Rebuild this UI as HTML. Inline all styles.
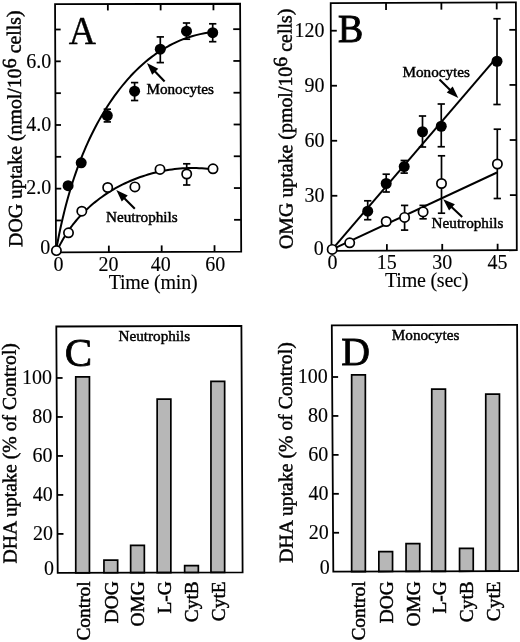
<!DOCTYPE html>
<html><head><meta charset="utf-8"><style>
html,body{margin:0;padding:0;background:#fff;}
svg{display:block;filter:grayscale(1);}
text{font-family:"Liberation Serif", serif;fill:#000;stroke:#000;stroke-width:0.45px;}
text.t{stroke-width:0.12px;}
</style></head><body>
<svg width="520" height="642" viewBox="0 0 520 642">
<rect width="520" height="642" fill="#fff"/>
<path d="M56.11,250.11 L56.83,246.15 L57.58,242.19 L58.36,238.20 L59.16,234.21 L60.00,230.21 L60.87,226.20 L61.77,222.19 L62.70,218.17 L63.66,214.15 L64.66,210.13 L65.70,206.10 L66.77,202.08 L67.87,198.06 L69.02,194.04 L70.20,190.03 L71.42,186.03 L72.68,182.03 L73.99,178.05 L75.33,174.07 L76.72,170.11 L78.15,166.16 L79.63,162.23 L81.15,158.31 L82.71,154.41 L84.32,150.53 L85.98,146.67 L87.69,142.84 L89.45,139.03 L91.26,135.24 L93.12,131.48 L95.03,127.75 L96.99,124.05 L99.01,120.38 L101.08,116.75 L103.20,113.14 L105.39,109.58 L107.62,106.05 L109.92,102.55 L112.27,99.10 L114.69,95.69 L117.16,92.33 L119.69,89.01 L122.29,85.75 L124.94,82.54 L127.66,79.39 L130.44,76.31 L133.29,73.30 L136.20,70.36 L139.17,67.49 L142.21,64.71 L145.31,62.00 L148.49,59.39 L151.72,56.87 L155.03,54.44 L158.41,52.11 L161.85,49.89 L165.36,47.77 L168.95,45.76 L172.60,43.87 L176.33,42.09 L180.13,40.44 L184.00,38.91 L187.94,37.51 L191.96,36.25 L196.05,35.12 L200.22,34.14 L204.46,33.30 L208.79,32.61 L213.18,32.07" fill="none" stroke="#000" stroke-width="2.0" stroke-linejoin="round"/>
<path d="M57.06,250.86 L58.23,248.33 L59.46,245.83 L60.74,243.37 L62.06,240.95 L63.44,238.56 L64.86,236.21 L66.32,233.89 L67.83,231.61 L69.39,229.36 L70.99,227.15 L72.63,224.98 L74.32,222.85 L76.04,220.75 L77.81,218.69 L79.62,216.67 L81.46,214.68 L83.34,212.73 L85.26,210.83 L87.22,208.96 L89.21,207.12 L91.23,205.33 L93.29,203.58 L95.38,201.86 L97.51,200.19 L99.66,198.55 L101.85,196.96 L104.06,195.40 L106.31,193.89 L108.58,192.42 L110.88,190.98 L113.20,189.59 L115.55,188.24 L117.93,186.93 L120.33,185.66 L122.75,184.44 L125.19,183.26 L127.66,182.12 L130.15,181.02 L132.65,179.96 L135.17,178.95 L137.72,177.98 L140.28,177.06 L142.85,176.18 L145.44,175.34 L148.05,174.54 L150.67,173.79 L153.30,173.09 L155.94,172.43 L158.60,171.82 L161.26,171.25 L163.94,170.72 L166.62,170.24 L169.32,169.81 L172.02,169.42 L174.72,169.08 L177.43,168.79 L180.15,168.54 L182.87,168.34 L185.59,168.19 L188.32,168.09 L191.04,168.03 L193.77,168.02 L196.50,168.06 L199.22,168.15 L201.95,168.28 L204.67,168.46 L207.38,168.70 L210.10,168.98 L212.80,169.31" fill="none" stroke="#000" stroke-width="2.0" stroke-linejoin="round"/>
<polygon points="55.05,4.05 240.10,3.75 241.20,251.60 56.00,252.30" fill="none" stroke="#000" stroke-width="1.8" stroke-linejoin="miter"/>
<line x1="55.88" y1="220.47" x2="61.38" y2="220.47" stroke="#000" stroke-width="1.8" stroke-linecap="butt"/>
<line x1="241.06" y1="219.82" x2="234.06" y2="219.82" stroke="#000" stroke-width="1.8" stroke-linecap="butt"/>
<line x1="55.76" y1="188.65" x2="61.26" y2="188.65" stroke="#000" stroke-width="1.8" stroke-linecap="butt"/>
<line x1="240.92" y1="188.05" x2="233.92" y2="188.05" stroke="#000" stroke-width="1.8" stroke-linecap="butt"/>
<line x1="55.63" y1="156.82" x2="61.13" y2="156.82" stroke="#000" stroke-width="1.8" stroke-linecap="butt"/>
<line x1="240.78" y1="156.27" x2="233.78" y2="156.27" stroke="#000" stroke-width="1.8" stroke-linecap="butt"/>
<line x1="55.51" y1="124.99" x2="61.01" y2="124.99" stroke="#000" stroke-width="1.8" stroke-linecap="butt"/>
<line x1="240.64" y1="124.50" x2="233.64" y2="124.50" stroke="#000" stroke-width="1.8" stroke-linecap="butt"/>
<line x1="55.39" y1="93.17" x2="60.89" y2="93.17" stroke="#000" stroke-width="1.8" stroke-linecap="butt"/>
<line x1="240.49" y1="92.72" x2="233.49" y2="92.72" stroke="#000" stroke-width="1.8" stroke-linecap="butt"/>
<line x1="55.27" y1="61.34" x2="60.77" y2="61.34" stroke="#000" stroke-width="1.8" stroke-linecap="butt"/>
<line x1="240.35" y1="60.95" x2="233.35" y2="60.95" stroke="#000" stroke-width="1.8" stroke-linecap="butt"/>
<line x1="55.15" y1="29.51" x2="60.65" y2="29.51" stroke="#000" stroke-width="1.8" stroke-linecap="butt"/>
<line x1="240.21" y1="29.17" x2="233.21" y2="29.17" stroke="#000" stroke-width="1.8" stroke-linecap="butt"/>
<line x1="107.85" y1="3.96" x2="107.85" y2="10.46" stroke="#000" stroke-width="1.8" stroke-linecap="butt"/>
<line x1="108.84" y1="252.10" x2="108.84" y2="245.60" stroke="#000" stroke-width="1.8" stroke-linecap="butt"/>
<line x1="160.64" y1="3.88" x2="160.64" y2="10.38" stroke="#000" stroke-width="1.8" stroke-linecap="butt"/>
<line x1="161.68" y1="251.90" x2="161.68" y2="245.40" stroke="#000" stroke-width="1.8" stroke-linecap="butt"/>
<line x1="213.44" y1="3.79" x2="213.44" y2="10.29" stroke="#000" stroke-width="1.8" stroke-linecap="butt"/>
<line x1="214.52" y1="251.70" x2="214.52" y2="245.20" stroke="#000" stroke-width="1.8" stroke-linecap="butt"/>
<line x1="107.30" y1="109.20" x2="107.30" y2="121.90" stroke="#000" stroke-width="1.7" stroke-linecap="butt"/>
<line x1="103.65" y1="109.20" x2="110.95" y2="109.20" stroke="#000" stroke-width="1.7" stroke-linecap="butt"/>
<line x1="103.65" y1="121.90" x2="110.95" y2="121.90" stroke="#000" stroke-width="1.7" stroke-linecap="butt"/>
<line x1="134.60" y1="82.60" x2="134.60" y2="100.50" stroke="#000" stroke-width="1.7" stroke-linecap="butt"/>
<line x1="130.95" y1="82.60" x2="138.25" y2="82.60" stroke="#000" stroke-width="1.7" stroke-linecap="butt"/>
<line x1="130.95" y1="100.50" x2="138.25" y2="100.50" stroke="#000" stroke-width="1.7" stroke-linecap="butt"/>
<line x1="160.30" y1="36.90" x2="160.30" y2="62.60" stroke="#000" stroke-width="1.7" stroke-linecap="butt"/>
<line x1="156.65" y1="36.90" x2="163.95" y2="36.90" stroke="#000" stroke-width="1.7" stroke-linecap="butt"/>
<line x1="156.65" y1="62.60" x2="163.95" y2="62.60" stroke="#000" stroke-width="1.7" stroke-linecap="butt"/>
<line x1="186.50" y1="23.00" x2="186.50" y2="39.20" stroke="#000" stroke-width="1.7" stroke-linecap="butt"/>
<line x1="182.85" y1="23.00" x2="190.15" y2="23.00" stroke="#000" stroke-width="1.7" stroke-linecap="butt"/>
<line x1="182.85" y1="39.20" x2="190.15" y2="39.20" stroke="#000" stroke-width="1.7" stroke-linecap="butt"/>
<line x1="212.70" y1="23.80" x2="212.70" y2="41.70" stroke="#000" stroke-width="1.7" stroke-linecap="butt"/>
<line x1="209.05" y1="23.80" x2="216.35" y2="23.80" stroke="#000" stroke-width="1.7" stroke-linecap="butt"/>
<line x1="209.05" y1="41.70" x2="216.35" y2="41.70" stroke="#000" stroke-width="1.7" stroke-linecap="butt"/>
<line x1="186.70" y1="163.80" x2="186.70" y2="185.00" stroke="#000" stroke-width="1.7" stroke-linecap="butt"/>
<line x1="183.05" y1="163.80" x2="190.35" y2="163.80" stroke="#000" stroke-width="1.7" stroke-linecap="butt"/>
<line x1="183.05" y1="185.00" x2="190.35" y2="185.00" stroke="#000" stroke-width="1.7" stroke-linecap="butt"/>
<circle cx="68.10" cy="185.70" r="5.5" fill="#000"/>
<circle cx="81.20" cy="162.80" r="5.5" fill="#000"/>
<circle cx="107.30" cy="115.60" r="5.5" fill="#000"/>
<circle cx="134.60" cy="91.20" r="5.5" fill="#000"/>
<circle cx="160.30" cy="49.20" r="5.5" fill="#000"/>
<circle cx="186.50" cy="31.20" r="5.5" fill="#000"/>
<circle cx="212.70" cy="32.70" r="5.5" fill="#000"/>
<circle cx="56.40" cy="250.60" r="4.65" fill="#fff" stroke="#000" stroke-width="1.7"/>
<circle cx="68.50" cy="232.80" r="4.65" fill="#fff" stroke="#000" stroke-width="1.7"/>
<circle cx="81.80" cy="211.20" r="4.65" fill="#fff" stroke="#000" stroke-width="1.7"/>
<circle cx="107.70" cy="187.50" r="4.65" fill="#fff" stroke="#000" stroke-width="1.7"/>
<circle cx="134.90" cy="186.90" r="4.65" fill="#fff" stroke="#000" stroke-width="1.7"/>
<circle cx="160.00" cy="169.40" r="4.65" fill="#fff" stroke="#000" stroke-width="1.7"/>
<circle cx="186.70" cy="174.00" r="4.65" fill="#fff" stroke="#000" stroke-width="1.7"/>
<circle cx="213.00" cy="168.80" r="4.65" fill="#fff" stroke="#000" stroke-width="1.7"/>
<line x1="164.60" y1="81.50" x2="153.83" y2="70.31" stroke="#000" stroke-width="2.1" stroke-linecap="butt"/>
<polygon points="146.90,63.10 158.28,68.80 152.16,74.69" fill="#000"/>
<text x="146.40" y="94.30" font-size="15.2" text-anchor="start" >Monocytes</text>
<line x1="134.80" y1="208.70" x2="123.35" y2="197.19" stroke="#000" stroke-width="2.1" stroke-linecap="butt"/>
<polygon points="116.30,190.10 127.78,195.61 121.75,201.61" fill="#000"/>
<text x="106.00" y="221.50" font-size="15.2" text-anchor="start" >Neutrophils</text>
<text class="t" x="50.20" y="254.30" font-size="20" text-anchor="end" >0</text>
<text class="t" x="51.20" y="193.60" font-size="20" text-anchor="end" >2.0</text>
<text class="t" x="51.20" y="130.60" font-size="20" text-anchor="end" >4.0</text>
<text class="t" x="51.20" y="67.60" font-size="20" text-anchor="end" >6.0</text>
<text class="t" x="58.60" y="270.60" font-size="20" text-anchor="middle" >0</text>
<text class="t" x="108.60" y="270.60" font-size="20" text-anchor="middle" >20</text>
<text class="t" x="160.80" y="270.60" font-size="20" text-anchor="middle" >40</text>
<text class="t" x="215.30" y="270.60" font-size="20" text-anchor="middle" >60</text>
<text class="t" x="153.00" y="289.10" font-size="20" text-anchor="middle" letter-spacing="-0.22">Time (min)</text>
<text transform="translate(21.30,128.65) rotate(-90.45)" font-size="19.87" text-anchor="middle" >DOG uptake (nmol/10<tspan dy="-4.8">6</tspan><tspan dy="4.8"> cells)</tspan></text>
<text transform="translate(68.80,43.90) scale(0.92,1)" x="0" y="0" font-size="41" style="stroke-width:0.4px">A</text>
<line x1="332.20" y1="249.40" x2="495.00" y2="59.30" stroke="#000" stroke-width="2.0" stroke-linecap="butt"/>
<line x1="332.20" y1="249.40" x2="497.00" y2="172.50" stroke="#000" stroke-width="2.0" stroke-linecap="butt"/>
<polygon points="330.70,3.20 515.90,2.30 516.80,250.20 331.50,250.80" fill="none" stroke="#000" stroke-width="1.8" stroke-linejoin="miter"/>
<line x1="331.32" y1="195.78" x2="337.32" y2="195.78" stroke="#000" stroke-width="1.8" stroke-linecap="butt"/>
<line x1="516.60" y1="195.11" x2="509.90" y2="195.11" stroke="#000" stroke-width="1.8" stroke-linecap="butt"/>
<line x1="331.14" y1="140.76" x2="337.14" y2="140.76" stroke="#000" stroke-width="1.8" stroke-linecap="butt"/>
<line x1="516.40" y1="140.02" x2="509.70" y2="140.02" stroke="#000" stroke-width="1.8" stroke-linecap="butt"/>
<line x1="330.97" y1="85.73" x2="336.97" y2="85.73" stroke="#000" stroke-width="1.8" stroke-linecap="butt"/>
<line x1="516.20" y1="84.93" x2="509.50" y2="84.93" stroke="#000" stroke-width="1.8" stroke-linecap="butt"/>
<line x1="330.79" y1="30.71" x2="336.79" y2="30.71" stroke="#000" stroke-width="1.8" stroke-linecap="butt"/>
<line x1="516.00" y1="29.84" x2="509.30" y2="29.84" stroke="#000" stroke-width="1.8" stroke-linecap="butt"/>
<line x1="386.04" y1="2.93" x2="386.04" y2="9.93" stroke="#000" stroke-width="1.8" stroke-linecap="butt"/>
<line x1="386.87" y1="250.62" x2="386.87" y2="244.12" stroke="#000" stroke-width="1.8" stroke-linecap="butt"/>
<line x1="441.38" y1="2.66" x2="441.38" y2="9.66" stroke="#000" stroke-width="1.8" stroke-linecap="butt"/>
<line x1="442.24" y1="250.44" x2="442.24" y2="243.94" stroke="#000" stroke-width="1.8" stroke-linecap="butt"/>
<line x1="496.72" y1="2.39" x2="496.72" y2="9.39" stroke="#000" stroke-width="1.8" stroke-linecap="butt"/>
<line x1="497.61" y1="250.26" x2="497.61" y2="243.76" stroke="#000" stroke-width="1.8" stroke-linecap="butt"/>
<line x1="367.70" y1="200.80" x2="367.70" y2="219.70" stroke="#000" stroke-width="1.7" stroke-linecap="butt"/>
<line x1="364.05" y1="200.80" x2="371.35" y2="200.80" stroke="#000" stroke-width="1.7" stroke-linecap="butt"/>
<line x1="364.05" y1="219.70" x2="371.35" y2="219.70" stroke="#000" stroke-width="1.7" stroke-linecap="butt"/>
<line x1="386.20" y1="174.20" x2="386.20" y2="192.00" stroke="#000" stroke-width="1.7" stroke-linecap="butt"/>
<line x1="382.55" y1="174.20" x2="389.85" y2="174.20" stroke="#000" stroke-width="1.7" stroke-linecap="butt"/>
<line x1="382.55" y1="192.00" x2="389.85" y2="192.00" stroke="#000" stroke-width="1.7" stroke-linecap="butt"/>
<line x1="404.20" y1="160.50" x2="404.20" y2="173.10" stroke="#000" stroke-width="1.7" stroke-linecap="butt"/>
<line x1="400.55" y1="160.50" x2="407.85" y2="160.50" stroke="#000" stroke-width="1.7" stroke-linecap="butt"/>
<line x1="400.55" y1="173.10" x2="407.85" y2="173.10" stroke="#000" stroke-width="1.7" stroke-linecap="butt"/>
<line x1="422.50" y1="116.00" x2="422.50" y2="147.00" stroke="#000" stroke-width="1.7" stroke-linecap="butt"/>
<line x1="418.85" y1="116.00" x2="426.15" y2="116.00" stroke="#000" stroke-width="1.7" stroke-linecap="butt"/>
<line x1="418.85" y1="147.00" x2="426.15" y2="147.00" stroke="#000" stroke-width="1.7" stroke-linecap="butt"/>
<line x1="441.25" y1="104.00" x2="441.25" y2="146.75" stroke="#000" stroke-width="1.7" stroke-linecap="butt"/>
<line x1="437.60" y1="104.00" x2="444.90" y2="104.00" stroke="#000" stroke-width="1.7" stroke-linecap="butt"/>
<line x1="437.60" y1="146.75" x2="444.90" y2="146.75" stroke="#000" stroke-width="1.7" stroke-linecap="butt"/>
<line x1="497.00" y1="18.75" x2="497.00" y2="104.50" stroke="#000" stroke-width="1.7" stroke-linecap="butt"/>
<line x1="493.35" y1="18.75" x2="500.65" y2="18.75" stroke="#000" stroke-width="1.7" stroke-linecap="butt"/>
<line x1="493.35" y1="104.50" x2="500.65" y2="104.50" stroke="#000" stroke-width="1.7" stroke-linecap="butt"/>
<line x1="404.60" y1="205.40" x2="404.60" y2="230.10" stroke="#000" stroke-width="1.7" stroke-linecap="butt"/>
<line x1="400.95" y1="205.40" x2="408.25" y2="205.40" stroke="#000" stroke-width="1.7" stroke-linecap="butt"/>
<line x1="400.95" y1="230.10" x2="408.25" y2="230.10" stroke="#000" stroke-width="1.7" stroke-linecap="butt"/>
<line x1="423.10" y1="205.40" x2="423.10" y2="218.80" stroke="#000" stroke-width="1.7" stroke-linecap="butt"/>
<line x1="419.45" y1="205.40" x2="426.75" y2="205.40" stroke="#000" stroke-width="1.7" stroke-linecap="butt"/>
<line x1="419.45" y1="218.80" x2="426.75" y2="218.80" stroke="#000" stroke-width="1.7" stroke-linecap="butt"/>
<line x1="441.50" y1="155.80" x2="441.50" y2="213.20" stroke="#000" stroke-width="1.7" stroke-linecap="butt"/>
<line x1="437.85" y1="155.80" x2="445.15" y2="155.80" stroke="#000" stroke-width="1.7" stroke-linecap="butt"/>
<line x1="437.85" y1="213.20" x2="445.15" y2="213.20" stroke="#000" stroke-width="1.7" stroke-linecap="butt"/>
<line x1="497.30" y1="129.20" x2="497.30" y2="198.50" stroke="#000" stroke-width="1.7" stroke-linecap="butt"/>
<line x1="493.65" y1="129.20" x2="500.95" y2="129.20" stroke="#000" stroke-width="1.7" stroke-linecap="butt"/>
<line x1="493.65" y1="198.50" x2="500.95" y2="198.50" stroke="#000" stroke-width="1.7" stroke-linecap="butt"/>
<circle cx="367.70" cy="211.20" r="5.5" fill="#000"/>
<circle cx="386.20" cy="183.50" r="5.5" fill="#000"/>
<circle cx="404.20" cy="166.60" r="5.5" fill="#000"/>
<circle cx="422.50" cy="131.75" r="5.5" fill="#000"/>
<circle cx="441.25" cy="126.25" r="5.5" fill="#000"/>
<circle cx="497.00" cy="61.25" r="5.5" fill="#000"/>
<circle cx="332.20" cy="249.40" r="4.65" fill="#fff" stroke="#000" stroke-width="1.7"/>
<circle cx="349.70" cy="242.80" r="4.65" fill="#fff" stroke="#000" stroke-width="1.7"/>
<circle cx="386.20" cy="221.50" r="4.65" fill="#fff" stroke="#000" stroke-width="1.7"/>
<circle cx="404.60" cy="217.40" r="4.65" fill="#fff" stroke="#000" stroke-width="1.7"/>
<circle cx="423.10" cy="211.90" r="4.65" fill="#fff" stroke="#000" stroke-width="1.7"/>
<circle cx="441.50" cy="183.50" r="4.65" fill="#fff" stroke="#000" stroke-width="1.7"/>
<circle cx="497.40" cy="164.00" r="4.65" fill="#fff" stroke="#000" stroke-width="1.7"/>
<line x1="439.50" y1="79.50" x2="451.15" y2="90.91" stroke="#000" stroke-width="2.1" stroke-linecap="butt"/>
<polygon points="458.30,97.90 446.75,92.54 452.70,86.47" fill="#000"/>
<text x="402.50" y="77.00" font-size="15.2" text-anchor="start" >Monocytes</text>
<line x1="462.20" y1="217.00" x2="450.50" y2="206.04" stroke="#000" stroke-width="2.1" stroke-linecap="butt"/>
<polygon points="443.20,199.20 454.86,204.30 449.05,210.51" fill="#000"/>
<text x="431.60" y="227.90" font-size="15.2" text-anchor="start" >Neutrophils</text>
<text class="t" x="323.80" y="255.00" font-size="20" text-anchor="end" >0</text>
<text class="t" x="324.60" y="201.98" font-size="20" text-anchor="end" >30</text>
<text class="t" x="324.60" y="146.96" font-size="20" text-anchor="end" >60</text>
<text class="t" x="324.60" y="91.93" font-size="20" text-anchor="end" >90</text>
<text class="t" x="324.60" y="36.91" font-size="20" text-anchor="end" >120</text>
<text class="t" x="332.50" y="268.50" font-size="20" text-anchor="middle" >0</text>
<text class="t" x="386.87" y="268.50" font-size="20" text-anchor="middle" >15</text>
<text class="t" x="442.24" y="268.50" font-size="20" text-anchor="middle" >30</text>
<text class="t" x="497.61" y="268.50" font-size="20" text-anchor="middle" >45</text>
<text class="t" x="426.60" y="287.30" font-size="20" text-anchor="middle" letter-spacing="-0.22">Time (sec)</text>
<text transform="translate(292.10,128.85) rotate(-90.3)" font-size="19.9" text-anchor="middle" >OMG uptake (pmol/10<tspan dy="-4.8">6</tspan><tspan dy="4.8"> cells)</tspan></text>
<text transform="translate(337.90,41.50) scale(0.95,1)" x="0" y="0" font-size="39.8" style="stroke-width:1.0px">B</text>
<polygon points="75.75,572.84 75.75,376.92 89.45,376.87 89.45,572.80" fill="#b7b7b7" stroke="#000" stroke-width="1.7" stroke-linejoin="miter"/>
<polygon points="103.95,572.75 103.95,560.08 117.65,560.03 117.65,572.71" fill="#b7b7b7" stroke="#000" stroke-width="1.7" stroke-linejoin="miter"/>
<polygon points="130.65,572.66 130.65,545.37 144.35,545.32 144.35,572.62" fill="#b7b7b7" stroke="#000" stroke-width="1.7" stroke-linejoin="miter"/>
<polygon points="157.15,572.58 157.15,399.05 170.85,399.00 170.85,572.53" fill="#b7b7b7" stroke="#000" stroke-width="1.7" stroke-linejoin="miter"/>
<polygon points="184.65,572.49 184.65,565.66 198.35,565.62 198.35,572.44" fill="#b7b7b7" stroke="#000" stroke-width="1.7" stroke-linejoin="miter"/>
<polygon points="210.95,572.40 210.95,381.30 224.65,381.25 224.65,572.36" fill="#b7b7b7" stroke="#000" stroke-width="1.7" stroke-linejoin="miter"/>
<polygon points="56.30,326.50 241.40,325.80 242.60,572.30 57.70,572.90" fill="none" stroke="#000" stroke-width="1.8" stroke-linejoin="miter"/>
<line x1="57.48" y1="533.91" x2="63.48" y2="533.91" stroke="#000" stroke-width="1.8" stroke-linecap="butt"/>
<line x1="57.26" y1="494.93" x2="63.26" y2="494.93" stroke="#000" stroke-width="1.8" stroke-linecap="butt"/>
<line x1="57.04" y1="455.94" x2="63.04" y2="455.94" stroke="#000" stroke-width="1.8" stroke-linecap="butt"/>
<line x1="56.81" y1="416.95" x2="62.81" y2="416.95" stroke="#000" stroke-width="1.8" stroke-linecap="butt"/>
<line x1="56.59" y1="377.96" x2="62.59" y2="377.96" stroke="#000" stroke-width="1.8" stroke-linecap="butt"/>
<text class="t" x="54.00" y="574.70" font-size="20" text-anchor="end" >0</text>
<text class="t" x="52.98" y="539.91" font-size="20" text-anchor="end" >20</text>
<text class="t" x="52.76" y="500.93" font-size="20" text-anchor="end" >40</text>
<text class="t" x="52.54" y="461.94" font-size="20" text-anchor="end" >60</text>
<text class="t" x="52.31" y="422.95" font-size="20" text-anchor="end" >80</text>
<text class="t" x="52.09" y="383.96" font-size="20" text-anchor="end" >100</text>
<text x="118.50" y="341.30" font-size="15.2" text-anchor="start" >Neutrophils</text>
<text transform="translate(64.80,365.50) scale(1.0,1)" x="0" y="0" font-size="41" style="stroke-width:0.8px">C</text>
<text transform="translate(89.50,581.30) rotate(-90)" font-size="19.4" text-anchor="end" >Control</text>
<text transform="translate(117.70,581.30) rotate(-90)" font-size="19.4" text-anchor="end" >DOG</text>
<text transform="translate(144.40,581.30) rotate(-90)" font-size="19.4" text-anchor="end" >OMG</text>
<text transform="translate(170.90,581.30) rotate(-90)" font-size="19.4" text-anchor="end" >L-G</text>
<text transform="translate(198.40,581.30) rotate(-90)" font-size="19.4" text-anchor="end" >CytB</text>
<text transform="translate(224.70,581.30) rotate(-90)" font-size="19.4" text-anchor="end" >CytE</text>
<text transform="translate(16.10,453.30) rotate(-90.27)" font-size="19.75" text-anchor="middle" >DHA uptake (% of Control)</text>
<polygon points="351.65,571.64 351.65,374.80 365.35,374.75 365.35,571.60" fill="#b7b7b7" stroke="#000" stroke-width="1.7" stroke-linejoin="miter"/>
<polygon points="378.85,571.55 378.85,551.69 392.55,551.65 392.55,571.51" fill="#b7b7b7" stroke="#000" stroke-width="1.7" stroke-linejoin="miter"/>
<polygon points="406.05,571.46 406.05,543.62 419.75,543.58 419.75,571.42" fill="#b7b7b7" stroke="#000" stroke-width="1.7" stroke-linejoin="miter"/>
<polygon points="431.75,571.38 431.75,389.14 445.45,389.09 445.45,571.34" fill="#b7b7b7" stroke="#000" stroke-width="1.7" stroke-linejoin="miter"/>
<polygon points="459.55,571.29 459.55,548.32 473.25,548.27 473.25,571.25" fill="#b7b7b7" stroke="#000" stroke-width="1.7" stroke-linejoin="miter"/>
<polygon points="485.75,571.21 485.75,394.03 499.45,393.98 499.45,571.16" fill="#b7b7b7" stroke="#000" stroke-width="1.7" stroke-linejoin="miter"/>
<polygon points="331.80,325.40 517.10,324.80 518.20,571.10 333.30,571.70" fill="none" stroke="#000" stroke-width="1.8" stroke-linejoin="miter"/>
<line x1="333.06" y1="532.76" x2="339.06" y2="532.76" stroke="#000" stroke-width="1.8" stroke-linecap="butt"/>
<line x1="332.83" y1="493.82" x2="338.83" y2="493.82" stroke="#000" stroke-width="1.8" stroke-linecap="butt"/>
<line x1="332.59" y1="454.88" x2="338.59" y2="454.88" stroke="#000" stroke-width="1.8" stroke-linecap="butt"/>
<line x1="332.35" y1="415.94" x2="338.35" y2="415.94" stroke="#000" stroke-width="1.8" stroke-linecap="butt"/>
<line x1="332.11" y1="377.00" x2="338.11" y2="377.00" stroke="#000" stroke-width="1.8" stroke-linecap="butt"/>
<text class="t" x="329.80" y="573.50" font-size="20" text-anchor="end" >0</text>
<text class="t" x="328.76" y="538.76" font-size="20" text-anchor="end" >20</text>
<text class="t" x="328.53" y="499.82" font-size="20" text-anchor="end" >40</text>
<text class="t" x="328.29" y="460.88" font-size="20" text-anchor="end" >60</text>
<text class="t" x="328.05" y="421.94" font-size="20" text-anchor="end" >80</text>
<text class="t" x="327.81" y="383.00" font-size="20" text-anchor="end" >100</text>
<text x="391.80" y="339.60" font-size="15.2" text-anchor="start" >Monocytes</text>
<text transform="translate(341.20,364.60) scale(1.0,1)" x="0" y="0" font-size="39.8" style="stroke-width:0.8px">D</text>
<text transform="translate(365.40,581.30) rotate(-90)" font-size="19.4" text-anchor="end" >Control</text>
<text transform="translate(392.60,581.30) rotate(-90)" font-size="19.4" text-anchor="end" >DOG</text>
<text transform="translate(419.80,581.30) rotate(-90)" font-size="19.4" text-anchor="end" >OMG</text>
<text transform="translate(445.50,581.30) rotate(-90)" font-size="19.4" text-anchor="end" >L-G</text>
<text transform="translate(473.30,581.30) rotate(-90)" font-size="19.4" text-anchor="end" >CytB</text>
<text transform="translate(499.50,581.30) rotate(-90)" font-size="19.4" text-anchor="end" >CytE</text>
<text transform="translate(292.20,452.50) rotate(-90.3)" font-size="19.75" text-anchor="middle" >DHA uptake (% of Control)</text>
</svg>
</body></html>
